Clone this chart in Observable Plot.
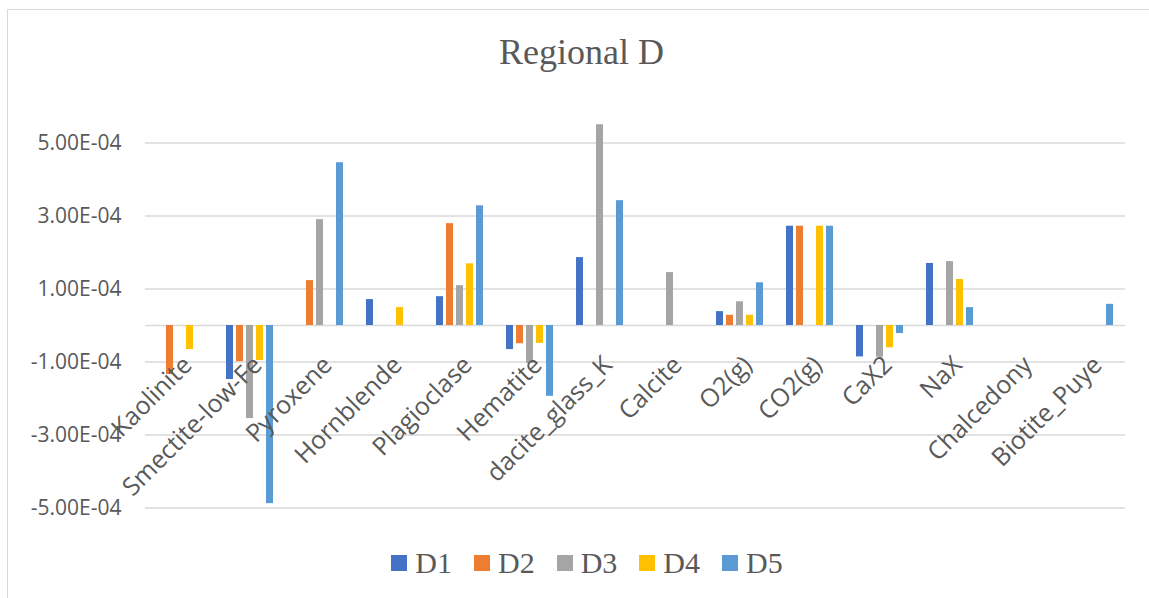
<!DOCTYPE html>
<html>
<head>
<meta charset="utf-8">
<script src="https://cdn.jsdelivr.net/npm/d3@7"></script>
<script src="https://cdn.jsdelivr.net/npm/@observablehq/plot@0.6"></script>
<style>
  html, body { margin: 0; padding: 0; background: #fff; overflow: hidden; }
  #wrap { position: relative; width: 1149px; height: 598px; overflow: hidden; }
  #frame { position: absolute; left: 7px; top: 9px; width: 1200px; height: 700px; border: 1.5px solid #d9d9d9; box-sizing: border-box; }
  #title { position: absolute; left: 0; width: 1163px; top: 32px; text-align: center; font-family: "Liberation Serif", "Times New Roman", serif; font-size: 36px; line-height: 40px; color: #595959; }
  #chart { position: absolute; left: 0; top: 0; }
  #legend { position: absolute; left: 0; width: 1174px; top: 546px; display: flex; justify-content: center; gap: 22px; font-family: "Liberation Serif", "Times New Roman", serif; font-size: 30px; line-height: 34px; color: #595959; }
  .item { display: flex; align-items: center; gap: 8px; }
  .sw { width: 16px; height: 16px; display: inline-block; }
</style>
</head>
<body>
<div id="wrap">
  <div id="frame"></div>
  <div id="chart"></div>
  <div id="title">Regional D</div>
  <div id="legend"></div>
</div>
<script>
const categories = ["Kaolinite", "Smectite-low-Fe", "Pyroxene", "Hornblende", "Plagioclase", "Hematite", "dacite_glass_K", "Calcite", "O2(g)", "CO2(g)", "CaX2", "NaX", "Chalcedony", "Biotite_Puye"];
const seriesNames = ["D1", "D2", "D3", "D4", "D5"];
const seriesColors = ["#4472C4", "#ED7D31", "#A5A5A5", "#FFC000", "#5B9BD5"];
const D1 = [0, -1.48e-4, 0, 0.71e-4, 0.79e-4, -0.66e-4, 1.86e-4, 0, 0.38e-4, 2.72e-4, -0.86e-4, 1.70e-4, 0, 0];
const D2 = [-1.34e-4, -0.99e-4, 1.23e-4, 0, 2.79e-4, -0.50e-4, 0, 0, 0.28e-4, 2.72e-4, 0, 0, 0, 0];
const D3 = [0, -2.55e-4, 2.90e-4, 0, 1.09e-4, -1.04e-4, 5.50e-4, 1.45e-4, 0.65e-4, 0, -0.87e-4, 1.75e-4, 0, 0];
const D4 = [-0.66e-4, -0.96e-4, 0, 0.49e-4, 1.69e-4, -0.49e-4, 0, 0, 0.28e-4, 2.72e-4, -0.61e-4, 1.26e-4, 0, 0];
const D5 = [0, -4.88e-4, 4.46e-4, 0, 3.28e-4, -1.94e-4, 3.42e-4, 0, 1.17e-4, 2.72e-4, -0.22e-4, 0.49e-4, 0, 0.58e-4];
const yTicks = [-5e-4, -3e-4, -1e-4, 1e-4, 3e-4, 5e-4];

const seriesValues = [D1, D2, D3, D4, D5];
const data = categories.flatMap((c, i) => seriesNames.map((s, j) => ({category: c, series: s, value: seriesValues[j][i]})));

function fmt(d) {
  const [m, e] = d.toExponential(2).split("e");
  const n = +e;
  return m.toUpperCase() + "E" + (n < 0 ? "-" : "+") + String(Math.abs(n)).padStart(2, "0");
}

const chart = Plot.plot({
  width: 1149,
  height: 598,
  marginLeft: 142,
  marginRight: 22,
  marginTop: 106,
  marginBottom: 90.5,
  style: {fontFamily: "'Open Sans', sans-serif", fontSize: "21px", color: "#595959", background: "transparent", overflow: "visible"},
  fx: {domain: categories, padding: 0, axis: null, label: null},
  x: {domain: seriesNames, paddingInner: 0.27, paddingOuter: 0.83, axis: null, label: null},
  y: {domain: [-5e-4, 6e-4], ticks: yTicks, tickFormat: fmt, tickSize: 0, tickPadding: 24, label: null},
  color: {domain: seriesNames, range: seriesColors},
  marks: [
    Plot.ruleY(yTicks, {stroke: "#d9d9d9", strokeWidth: 1.5}),
    Plot.ruleY([0], {stroke: "#d9d9d9", strokeWidth: 1.5}),
    Plot.barY(data, {fx: "category", x: "series", y: "value", fill: "series"}),
    Plot.text(categories, {fx: d => d, y: () => 0, text: d => d, rotate: -45, textAnchor: "end", dx: 13, dy: 41, fontSize: 25, fill: "#595959", lineAnchor: "bottom"})
  ]
});
document.getElementById("chart").appendChild(chart);

const legend = document.getElementById("legend");
seriesNames.forEach((s, i) => {
  const it = document.createElement("div");
  it.className = "item";
  const sw = document.createElement("span");
  sw.className = "sw";
  sw.style.background = seriesColors[i];
  const t = document.createElement("span");
  t.textContent = s;
  it.appendChild(sw);
  it.appendChild(t);
  legend.appendChild(it);
});
</script>
</body>
</html>
